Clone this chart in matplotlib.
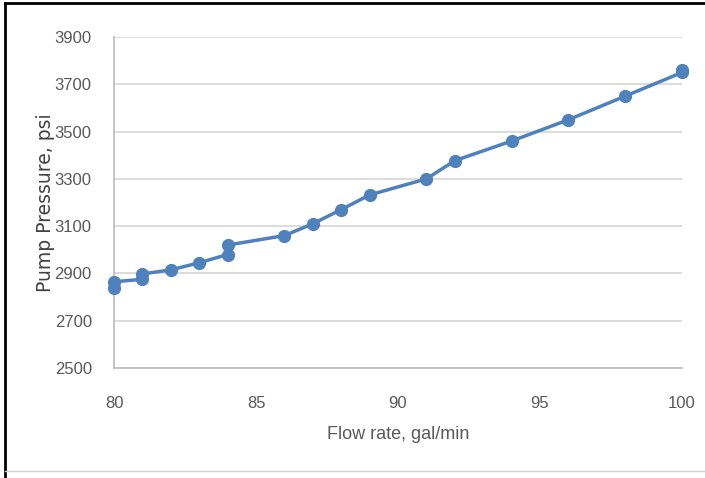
import matplotlib
matplotlib.use("Agg")
import matplotlib.pyplot as plt
from matplotlib.lines import Line2D

flow = [80, 80, 81, 81, 82, 83, 84, 84, 86, 87, 88, 89, 91, 92, 94, 96, 98, 100, 100]
pressure = [2840, 2865, 2875, 2898, 2915, 2945, 2980, 3020, 3060, 3110, 3170, 3232,
            3300, 3377, 3460, 3550, 3650, 3750, 3760]
xticks = [80, 85, 90, 95, 100]
yticks = [2500, 2700, 2900, 3100, 3300, 3500, 3700, 3900]

blue = "#4F81BD"
grey_txt = "#595959"
narrow = ["Liberation Sans Narrow", "Liberation Sans", "DejaVu Sans"]

fig = plt.figure(figsize=(7.05, 4.78), dpi=100)
ax = fig.add_axes([114/705, 1-368/478, (682-114)/705, (368-37)/478])

ax.plot(flow, pressure, color=blue, lw=2.5, marker="o", ms=8.5,
        markerfacecolor=blue, markeredgecolor=blue, zorder=3, clip_on=False)

ax.set_xlim(80, 100)
ax.set_ylim(2500, 3900)
ax.set_xticks(xticks)
ax.set_yticks(yticks)
ax.set_xticklabels([str(v) for v in xticks], family=narrow, fontsize=12, color=grey_txt)
ax.set_yticklabels([str(v) for v in yticks], family=narrow, fontsize=12, color=grey_txt)
ax.tick_params(length=0)
ax.tick_params(axis="x", pad=20)
ax.tick_params(axis="y", pad=16)

ax.grid(axis="y", color="#D9D9D9", lw=1.3)
ax.set_axisbelow(True)
for s in ["top", "right"]:
    ax.spines[s].set_visible(False)
for s in ["left", "bottom"]:
    ax.spines[s].set_color("#BFBFBF")
    ax.spines[s].set_linewidth(1.3)

ax.set_xlabel("Flow rate, gal/min", family=narrow, fontsize=13, color=grey_txt)
ax.xaxis.set_label_coords(0.5, -0.202)
ax.xaxis.label.set_va("center")
ax.set_ylabel("Pump Pressure, psi", family="DejaVu Sans", fontsize=13.5, color="#404040")
ax.yaxis.set_label_coords(-0.121, 0.5)
ax.yaxis.label.set_va("center")

# outer frame (left and top edges visible)
fig.add_artist(Line2D([5/705, 5/705], [0, 1-3/478], transform=fig.transFigure, color="black", lw=2))
fig.add_artist(Line2D([5/705, 1], [1-3/478, 1-3/478], transform=fig.transFigure, color="black", lw=2))
fig.add_artist(Line2D([5/705, 1], [1-471/478, 1-471/478], transform=fig.transFigure, color="#D0D0D0", lw=1))

fig.savefig("out.png", dpi=100)
